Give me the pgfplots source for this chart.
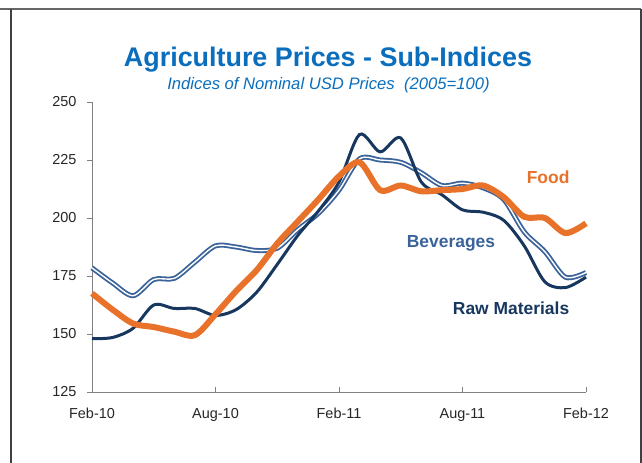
\documentclass[border=0pt]{standalone}
\usepackage{pgfplots}
\pgfplotsset{compat=1.18}
\usepackage{fontspec}
\setmainfont{Liberation Sans}
\definecolor{titleblue}{HTML}{0A6EBD}
\definecolor{foodc}{HTML}{E8722A}
\definecolor{bevc}{HTML}{3A6399}
\definecolor{rawc}{HTML}{17375E}
\definecolor{framec}{HTML}{404040}
\begin{document}
\begin{tikzpicture}
\useasboundingbox (0bp,0bp) rectangle (642bp,463bp);
\draw[framec!80, line width=2bp] (0bp,453.5bp) -- (641bp,453.5bp);
\draw[framec, line width=2bp] (11bp,453.5bp) -- (11bp,0bp);
\draw[framec, line width=2bp] (641bp,453.5bp) -- (641bp,0bp);
\node[font=\fontsize{27}{30}\selectfont\bfseries, text=titleblue] at (328bp,403bp) {Agriculture Prices - Sub-Indices};
\node[font=\fontsize{16.7}{19}\selectfont\itshape, text=titleblue] at (328.5bp,378bp) {Indices of Nominal USD Prices\ \ (2005=100)};
\begin{axis}[
  scale only axis, width=494bp, height=290bp,
  at={(92bp,71bp)}, anchor=south west,
  xmin=0, xmax=24, ymin=125, ymax=250,
  ytick={125,150,175,200,225,250},
  xtick={0,6,12,18,24},
  xticklabels={Feb-10,Aug-10,Feb-11,Aug-11,Feb-12},
  axis x line*=bottom, axis y line*=left,
  axis line style={color=gray, line width=0.8bp},
  tick style={color=gray, line width=0.8bp},
  major tick length=5bp,
  ytick align=outside, xtick align=inside,
  ytick pos=left, xtick pos=bottom,
  tick label style={font=\fontsize{14.5}{16}\selectfont, text=black!85},
  yticklabel style={xshift=-7bp},
  xticklabel style={yshift=-13bp},
  /pgf/number format/assume math mode=true,
  clip=false,
]
\addplot[color=bevc, line width=1.8bp, double=white, double distance=1.4bp, smooth] coordinates {
(0,178.5) (1,172) (2,166.5) (3,173.5) (4,174) (5,181) (6,188) (7,187.5) (8,186) (9,187) (10,195) (11,202) (12,212) (13,225.5) (14,225) (15,224) (16,219.5) (17,214) (18,215) (19,213) (20,208) (21,194) (22,185.5) (23,174.5) (24,176.5)};
\addplot[color=rawc, line width=3bp, smooth] coordinates {
(0,148) (1,148.5) (2,152.5) (3,162.5) (4,161) (5,161) (6,158) (7,160.5) (8,168) (9,180) (10,192.5) (11,203) (12,215.5) (13,236) (14,228.5) (15,234.5) (16,215.5) (17,210) (18,203.5) (19,202.5) (20,199) (21,188) (22,172.5) (23,170) (24,174.5)};
\addplot[color=foodc, line width=6bp, smooth] coordinates {
(0,167.5) (1,160.5) (2,154.5) (3,153) (4,151) (5,149.5) (6,158.5) (7,168.5) (8,177.5) (9,189) (10,198.5) (11,208) (12,218) (13,224) (14,212) (15,214) (16,211.5) (17,212) (18,212.5) (19,214) (20,209) (21,200.5) (22,200) (23,193.5) (24,197.7)};
\node[font=\fontsize{17.5}{20}\selectfont\bfseries, text=foodc] at (axis cs:22.16,217.7) {Food};
\node[font=\fontsize{17.5}{20}\selectfont\bfseries, text=bevc] at (axis cs:17.44,189.2) {Beverages};
\node[font=\fontsize{17.5}{20}\selectfont\bfseries, text=rawc] at (axis cs:20.36,161.2) {Raw Materials};
\end{axis}
\end{tikzpicture}
\end{document}
